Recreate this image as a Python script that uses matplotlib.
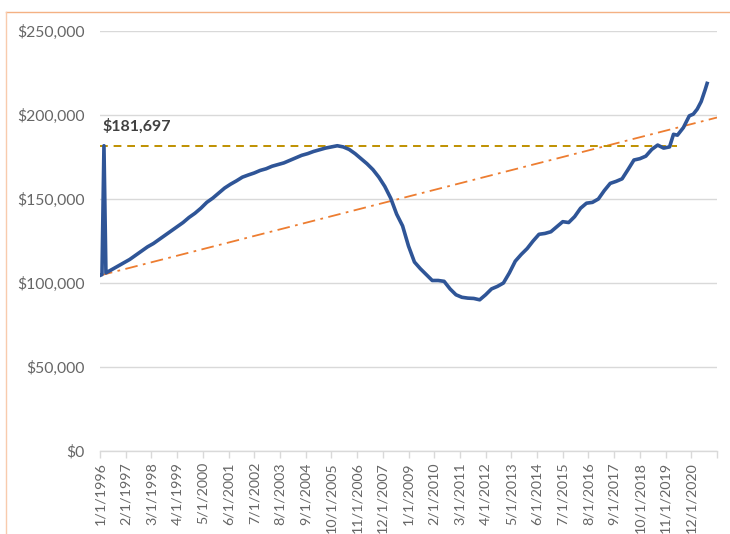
import matplotlib
matplotlib.use("Agg")
import matplotlib.pyplot as plt
from matplotlib.lines import Line2D
from matplotlib.ticker import FuncFormatter, MultipleLocator

# months since Jan 1996 and median price
months = [0, 1, 2, 3, 4, 6, 9, 12, 15, 18, 21, 24, 27, 30, 33, 36, 39, 42, 45,
          48, 51, 54, 57, 60, 63, 66, 69, 72, 75, 78, 81, 84, 87, 90, 93, 96,
          99, 102, 105, 108, 111, 114, 117, 120, 123, 126, 129, 132, 135, 138,
          141, 144, 147, 150, 153, 156, 159, 162, 165, 168, 171, 174, 177, 180,
          183, 186, 189, 192, 195, 198, 201, 204, 207, 210, 213, 216, 219, 222,
          225, 228, 231, 234, 237, 240, 243, 246, 249, 252, 255, 258, 261, 264,
          267, 270, 273, 276, 279, 282, 285, 288, 290, 292, 295, 298, 300, 302,
          304, 306, 307]
prices = [104500, 105000, 181697, 106000, 106700, 108000, 110000, 112000,
          114000, 116500, 119000, 121500, 123500, 126000, 128500, 131000,
          133500, 136000, 139000, 141500, 144500, 148000, 150500, 153500,
          156500, 158800, 160800, 163000, 164300, 165500, 167000, 168000,
          169500, 170500, 171500, 173000, 174500, 176000, 177000, 178300,
          179300, 180300, 181000, 181700, 181000, 179500, 177000, 174000,
          171000, 167500, 163000, 157500, 150500, 141000, 134000, 122000,
          112500, 108500, 105000, 101500, 101500, 101000, 96500, 93000,
          91500, 91000, 90800, 90000, 93000, 96500, 98000, 100000, 106000,
          113000, 117000, 120500, 125000, 129000, 129500, 130500, 133500,
          136500, 136000, 139500, 144500, 147500, 148000, 150000, 155000,
          159300, 160500, 162000, 167500, 173200, 174000, 175500, 179500,
          182100, 180300, 181000, 188500, 188000, 192500, 199500, 200500,
          203500, 208000, 215000, 218800]

peak_value = 181697
peak_line_months = [0, 292]
trend_months = [0, 312]
trend_values = [104500, 198500]

tick_months = [0, 13, 26, 39, 52, 65, 78, 91, 104, 117, 130, 143, 156, 169,
               182, 195, 208, 221, 234, 247, 260, 273, 286, 299]
tick_labels = ["1/1/1996", "2/1/1997", "3/1/1998", "4/1/1999", "5/1/2000",
               "6/1/2001", "7/1/2002", "8/1/2003", "9/1/2004", "10/1/2005",
               "11/1/2006", "12/1/2007", "1/1/2009", "2/1/2010", "3/1/2011",
               "4/1/2012", "5/1/2013", "6/1/2014", "7/1/2015", "8/1/2016",
               "9/1/2017", "10/1/2018", "11/1/2019", "12/1/2020"]
axis_end = 312

TEXT = '#666666'
GRID = '#D9D9D9'

plt.rcParams['font.family'] = ['Lato', 'DejaVu Sans']

fig = plt.figure(figsize=(7.3, 5.34), dpi=100)
ax = fig.add_axes([100 / 730, 1 - 451 / 534, 617 / 730, 420 / 534])

ax.plot(trend_months, trend_values, color='#ED7D31', lw=1.3,
        linestyle=(0, (7, 3, 1.5, 3)), zorder=2)
ax.plot(peak_line_months, [peak_value] * 2, color='#BF9000', lw=1.4,
        linestyle=(0, (4, 3)), zorder=2)
ax.plot(months, prices, color='#2F5597', lw=2.6, solid_joinstyle='round',
        zorder=3)

ax.annotate(f"${peak_value:,}", xy=(1.5, peak_value), xytext=(0, 14),
            textcoords='offset points', ha='left', va='center',
            fontsize=11.5, fontweight='bold', color='#404040')

ax.set_ylim(0, 250000)
ax.yaxis.set_major_locator(MultipleLocator(50000))
ax.yaxis.set_major_formatter(FuncFormatter(lambda v, p: f"${v:,.0f}"))
ax.set_xlim(0, axis_end)
ax.set_xticks(tick_months + [axis_end])
ax.set_xticklabels(tick_labels + [""], rotation=90, fontsize=10.3, color=TEXT)

ax.grid(axis='y', color=GRID, lw=1.0)
ax.set_axisbelow(True)
for side in ('top', 'right', 'left'):
    ax.spines[side].set_visible(False)
ax.spines['bottom'].set_color(GRID)
ax.spines['bottom'].set_linewidth(1.0)
ax.tick_params(axis='y', length=0, pad=11, labelsize=11.3, labelcolor=TEXT)
ax.tick_params(axis='x', length=5, color=GRID, width=1.0, pad=3)

# chart area border (only top and left edges fall inside the crop)
border = '#F4B183'
fig.add_artist(Line2D([6 / 730, 1], [1 - 12 / 534] * 2, color=border,
                      lw=1.0, transform=fig.transFigure))
fig.add_artist(Line2D([6 / 730] * 2, [0, 1 - 12 / 534], color='#F8CBAD',
                      lw=1.0, transform=fig.transFigure))

fig.savefig('out.png', dpi=100)
